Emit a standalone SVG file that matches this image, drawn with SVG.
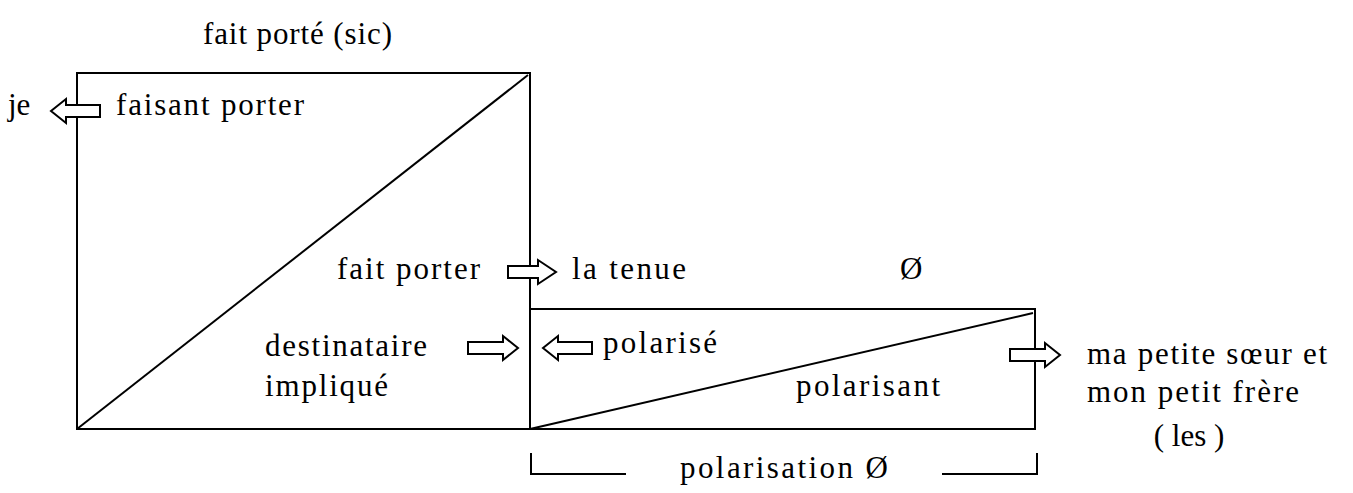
<svg xmlns="http://www.w3.org/2000/svg" width="1353" height="493" viewBox="0 0 1353 493">
<style>
.t{font-family:"Liberation Serif","Times New Roman",serif;font-size:31px;fill:#000}
.ln{fill:none;stroke:#000;stroke-width:2}
.ar{fill:#fff;stroke:#000;stroke-width:2;stroke-linejoin:miter}
</style>
<rect width="1353" height="493" fill="#fff"/>
<g id="connectors">
<line class="ln" x1="77" y1="429" x2="528" y2="75"/>
<line class="ln" x1="530" y1="429" x2="1033" y2="313"/>
<polyline class="ln" points="531,453 531,474 626,474"/>
<polyline class="ln" points="942,474 1037,474 1037,453"/>
</g>
<g id="box-large"><rect class="ln" x="77" y="73" width="453" height="356"/></g>
<g id="box-small"><rect class="ln" x="530" y="309" width="505" height="120"/></g>
<g id="arrows">
<path class="ar" d="M100,105 H66 V99 L51,111 L66,123 V117 H100 Z"/>
<path class="ar" d="M508,266 H538 V260 L556,272 L538,284 V278 H508 Z"/>
<path class="ar" d="M468,342 H503 V336 L518,348 L503,360 V354 H468 Z"/>
<path class="ar" d="M592,342 H558 V336 L543,348 L558,360 V354 H592 Z"/>
<path class="ar" d="M1010,349 H1045 V343 L1060,355 L1045,367 V361 H1010 Z"/>
</g>
<g id="labels">
<text class="t" x="203" y="44" textLength="189" lengthAdjust="spacing">fait porté (sic)</text>
<text class="t" x="8" y="115">je</text>
<text class="t" x="116" y="115" textLength="188" lengthAdjust="spacing">faisant porter</text>
<text class="t" x="337" y="279" textLength="143" lengthAdjust="spacing">fait porter</text>
<text class="t" x="572" y="279" textLength="114" lengthAdjust="spacing">la tenue</text>
<text class="t" x="900" y="279">Ø</text>
<text class="t" x="265" y="356" textLength="162" lengthAdjust="spacing">destinataire</text>
<text class="t" x="265" y="396" textLength="123" lengthAdjust="spacing">impliqué</text>
<text class="t" x="603" y="353" textLength="114" lengthAdjust="spacing">polarisé</text>
<text class="t" x="796" y="396" textLength="144" lengthAdjust="spacing">polarisant</text>
<text class="t" x="1087" y="364" textLength="240" lengthAdjust="spacing">ma petite sœur et</text>
<text class="t" x="1087" y="402" textLength="212" lengthAdjust="spacing">mon petit frère</text>
<text class="t" x="1189" y="446" text-anchor="middle">( les )</text>
<text class="t" x="680" y="478" textLength="208" lengthAdjust="spacing">polarisation Ø</text>
</g>
</svg>
